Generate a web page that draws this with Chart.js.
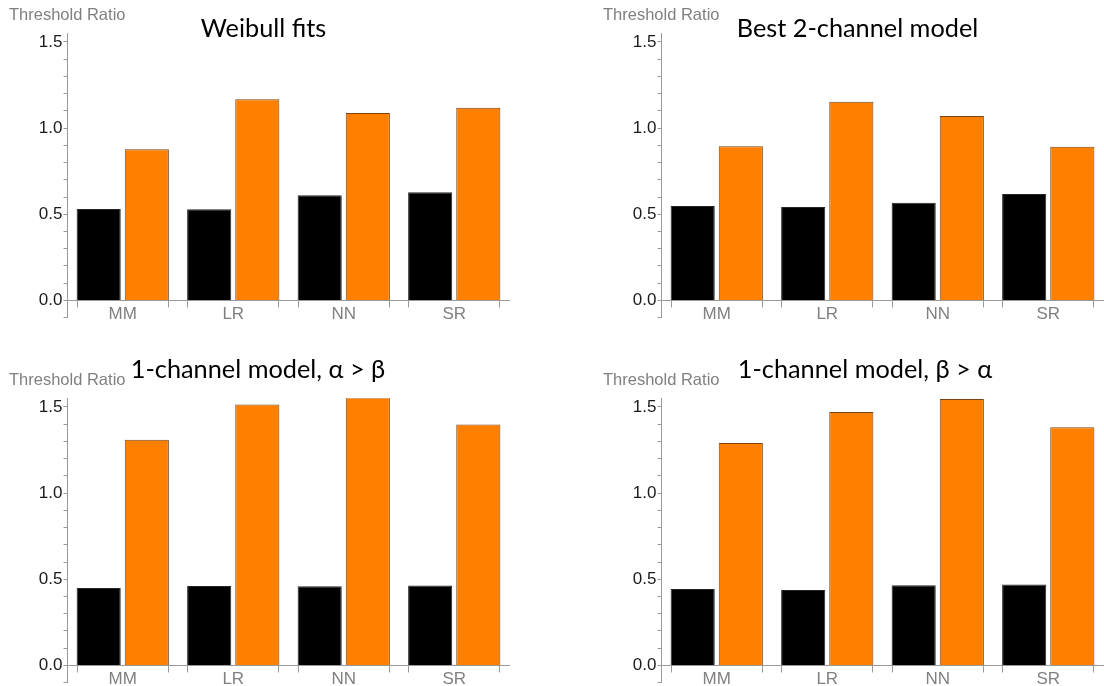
<!DOCTYPE html>
<html>
<head>
<meta charset="utf-8">
<script src="https://cdn.jsdelivr.net/npm/chart.js@4.4.1/dist/chart.umd.min.js"></script>
<style>
  html, body { margin: 0; padding: 0; background: #fff; }
  body { width: 1104px; height: 686px; position: relative; overflow: hidden; }
  .panel { position: absolute; }
  .ttl { position: absolute; font-family: Lato, "Open Sans", sans-serif; font-size: 25.3px; line-height: 25px; color: #000; white-space: nowrap; transform: translateX(-50%); }
  .ylab { position: absolute; font-family: "Liberation Sans", Arial, sans-serif; font-size: 16.5px; line-height: 16px; color: #808080; white-space: nowrap; }
</style>
</head>
<body>
<script>
// ---------------- data ----------------
const categories = ['MM', 'LR', 'NN', 'SR'];

const weibullBlack  = [0.531, 0.529, 0.610, 0.628];
const weibullOrange = [0.877, 1.167, 1.087, 1.118];

const best2Black  = [0.548, 0.542, 0.567, 0.617];
const best2Orange = [0.895, 1.153, 1.070, 0.892];

const oneAlphaBlack  = [0.449, 0.461, 0.459, 0.464];
const oneAlphaOrange = [1.309, 1.514, 1.555, 1.398];

const oneBetaBlack  = [0.444, 0.438, 0.465, 0.470];
const oneBetaOrange = [1.290, 1.471, 1.546, 1.382];

const titles = ['Weibull fits', 'Best 2-channel model', '1-channel model, \u03B1 > \u03B2', '1-channel model, \u03B2 > \u03B1'];
const yAxisLabel = 'Threshold Ratio';
const yTicks = [-0.1, 0, 0.1, 0.2, 0.3, 0.4, 0.5, 0.6, 0.7, 0.8, 0.9, 1.0, 1.1, 1.2, 1.3, 1.4, 1.5];
const yMajor = [0, 0.5, 1.0, 1.5];

// ---------------- layout ----------------
const panels = [
  { left: 0,   top: 0,     width: 520, padRight: 10.5, black: weibullBlack, orange: weibullOrange, title: titles[0], titleX: 263.5, titleTop: 14.5, labX: 9,   labTop: 6 },
  { left: 594, top: 0,     width: 510, padRight: 0.5,  black: best2Black,   orange: best2Orange,   title: titles[1], titleX: 857.5, titleTop: 14.5, labX: 603, labTop: 6 },
  { left: 0,   top: 364.5, width: 520, padRight: 10.5, black: oneAlphaBlack, orange: oneAlphaOrange, title: titles[2], titleX: 258, titleTop: 355.5, labX: 9,   labTop: 370.5 },
  { left: 594, top: 364.5, width: 510, padRight: 0.5,  black: oneBetaBlack,  orange: oneBetaOrange,  title: titles[3], titleX: 865, titleTop: 355.5, labX: 603, labTop: 370.5 }
];

const AXIS = '#9a9a9a';

const edgeTicks = {
  id: 'edgeTicks',
  afterDatasetsDraw(chart) {
    const ctx = chart.ctx;
    const y0 = chart.scales.y.getPixelForValue(0);
    const m0 = chart.getDatasetMeta(0), m1 = chart.getDatasetMeta(1);
    ctx.save();
    ctx.strokeStyle = AXIS;
    ctx.lineWidth = 1;
    ctx.beginPath();
    for (let i = 0; i < m0.data.length; i++) {
      const a = m0.data[i], b = m1.data[i];
      const xl = Math.round(a.x - a.width / 2) + 0.5;
      const xr = Math.round(b.x + b.width / 2) - 0.5;
      ctx.moveTo(xl, y0); ctx.lineTo(xl, y0 + 7);
      ctx.moveTo(xr, y0); ctx.lineTo(xr, y0 + 7);
    }
    ctx.stroke();
    ctx.restore();
  }
};

panels.forEach((p) => {
  const wrap = document.createElement('div');
  wrap.className = 'panel';
  wrap.style.left = p.left + 'px';
  wrap.style.top = p.top + 'px';
  wrap.style.width = p.width + 'px';
  wrap.style.height = '330px';
  const cv = document.createElement('canvas');
  wrap.appendChild(cv);
  document.body.appendChild(wrap);

  const t = document.createElement('div');
  t.className = 'ttl';
  t.style.left = p.titleX + 'px';
  t.style.top = p.titleTop + 'px';
  t.textContent = p.title;
  document.body.appendChild(t);

  const l = document.createElement('div');
  l.className = 'ylab';
  l.style.left = p.labX + 'px';
  l.style.top = p.labTop + 'px';
  l.textContent = yAxisLabel;
  document.body.appendChild(l);

  new Chart(cv, {
    type: 'bar',
    data: {
      labels: categories,
      datasets: [
        { data: p.black, backgroundColor: '#000000', borderColor: '#262626', borderWidth: 1,
          categoryPercentage: 0.871, barPercentage: 0.917 },
        { data: p.orange, backgroundColor: '#ff8000', borderColor: '#7a4410', borderWidth: 1,
          categoryPercentage: 0.871, barPercentage: 0.917 }
      ]
    },
    options: {
      responsive: true,
      maintainAspectRatio: false,
      animation: false,
      events: [],
      layout: { padding: { left: 7.5, right: p.padRight, top: 33.3, bottom: 12.3 } },
      plugins: { legend: { display: false }, tooltip: { enabled: false }, title: { display: false } },
      scales: {
        x: {
          type: 'category',
          position: { y: 0 },
          grid: { display: false, drawTicks: false },
          border: { display: true, color: AXIS, width: 1 },
          ticks: { color: '#808080', padding: 4, font: { family: 'Liberation Sans', size: 17 } },
          afterFit(s) { s.height = 0; }
        },
        y: {
          min: -0.1,
          max: 1.55,
          afterBuildTicks(s) { s.ticks = yTicks.map(v => ({ value: v })); },
          afterFit(s) { s.width = 60; },
          grid: { drawOnChartArea: false, drawTicks: true, tickLength: 4, color: AXIS },
          border: { display: true, color: AXIS, width: 1 },
          ticks: {
            autoSkip: false,
            color: '#1a1a1a',
            padding: 1,
            font: { family: 'Liberation Sans', size: 17 },
            callback: (v) => yMajor.some(m => Math.abs(m - v) < 1e-9) ? Number(v).toFixed(1) : ''
          }
        }
      }
    },
    plugins: [edgeTicks]
  });
});
</script>
</body>
</html>
